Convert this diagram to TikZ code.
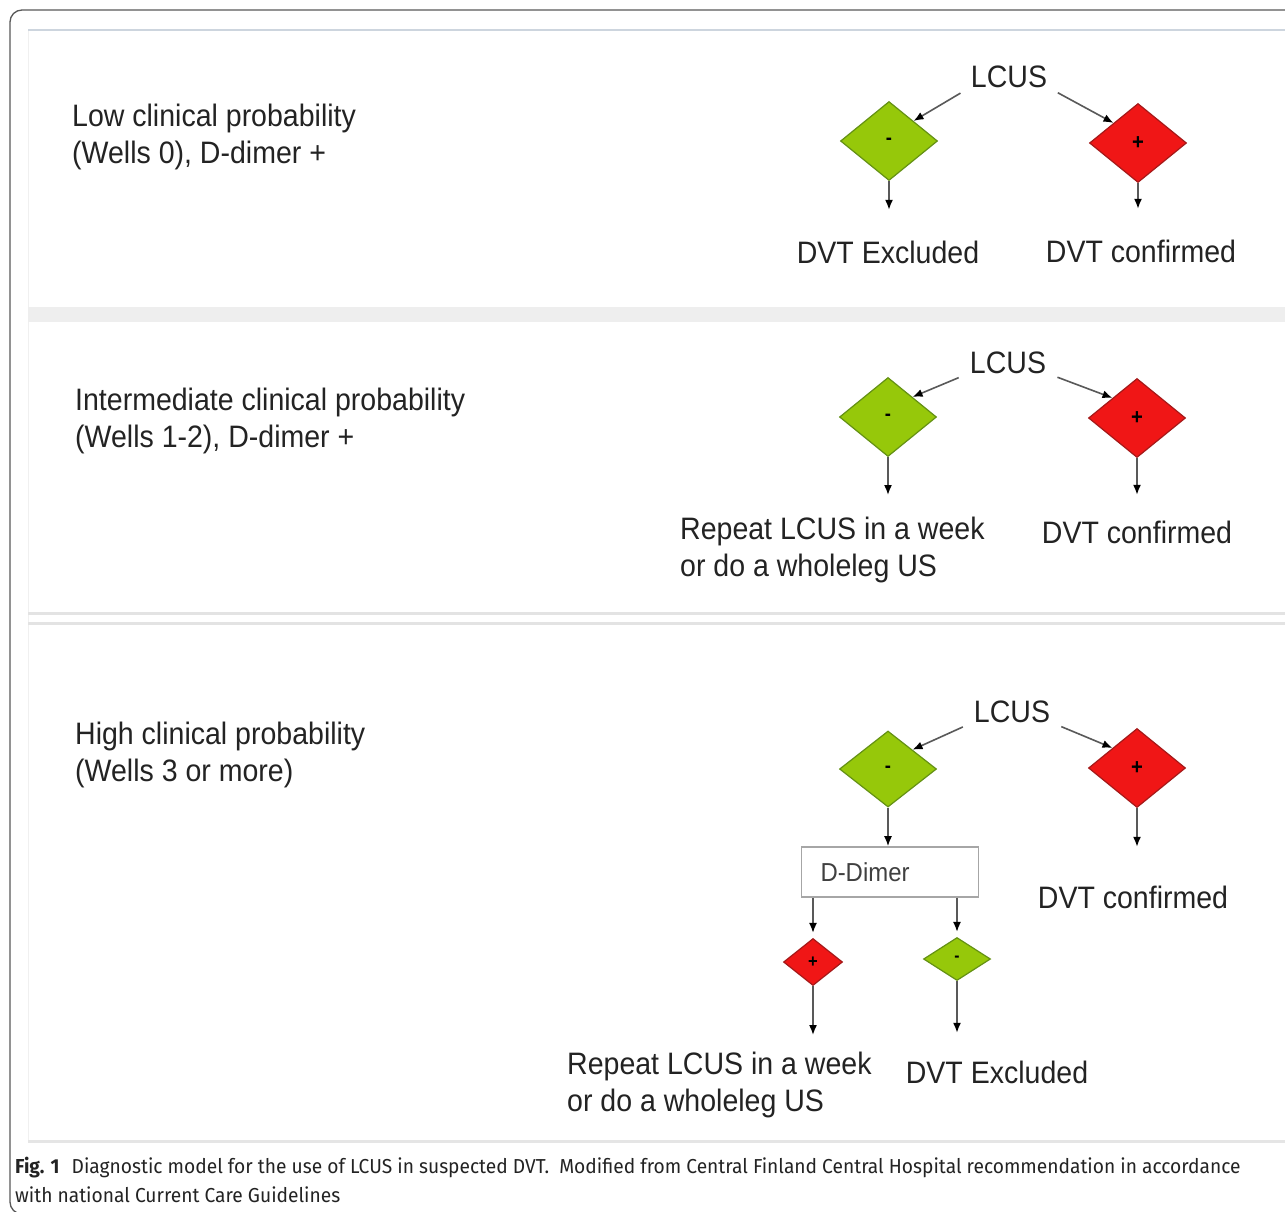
\documentclass[tikz,border=0pt]{standalone}
\usepackage{fontspec}
\usetikzlibrary{shapes.geometric,arrows.meta,calc}
\newfontfamily\diagfont{Liberation Sans}[FakeStretch=0.92]
\newfontfamily\capfont{Fira Sans}[FakeStretch=0.95]
\definecolor{negfill}{RGB}{150,200,10}
\definecolor{negline}{RGB}{100,145,20}
\definecolor{posfill}{RGB}{240,22,22}
\definecolor{posline}{RGB}{165,25,25}
\definecolor{txt}{RGB}{35,35,35}
\definecolor{panelline}{RGB}{205,213,222}

\begin{document}
\begin{tikzpicture}[x=1pt,y=-1pt]
  \tikzset{lbl/.style={font=\diagfont\fontsize{31}{37}\selectfont, text=txt, inner sep=0pt, text height=23pt, text depth=6pt},
           side/.style={font=\diagfont\fontsize{31}{37}\selectfont, text=txt, inner sep=0pt, align=left, anchor=north west},
           negdia/.style={diamond, draw=negline, fill=negfill, line width=1.2pt, inner sep=0pt, minimum width=97pt, minimum height=79pt, font=\diagfont\bfseries\fontsize{20}{20}\selectfont},
           posdia/.style={negdia, draw=posline, fill=posfill, font=\diagfont\bfseries\fontsize{22}{22}\selectfont},
           arr/.style={draw=black!65, line width=1.6pt, -{Latex[length=10pt,width=8pt,color=black]}},
           capline/.style={font=\capfont\fontsize{20.2}{24}\selectfont, text=txt, inner sep=0pt, anchor=base west}}
  \clip (0,0) rectangle (1285,1211);
  \fill[white] (0,0) rectangle (1285,1211);
  \draw[gray!12, line width=1pt] (28,31) -- (28,1141);
  \draw[panelline, line width=2.5pt] (28,30) -- (1285,30);
  \fill[gray!13] (28,307) rectangle (1285,322);
  \draw[gray!22, line width=3pt] (28,613) -- (1285,613);
  \draw[gray!22, line width=3pt] (28,623) -- (1285,623);
  \draw[gray!20, line width=3pt] (28,1141) -- (1285,1141);
  \draw[black!65, line width=1.3pt, rounded corners=12pt] (1290,10) -- (10,10) -- (10,1214) -- (40,1214);

  \node[side] (lowp) at (72,104) {Low clinical probability\\(Wells 0), D-dimer +};
  \node[lbl, anchor=base] (lcusA) at (1009,87) {LCUS};
  \node[negdia] (negA) at (889,141) {-};
  \node[posdia] (posA) at (1138,143) {+};
  \node[lbl, anchor=base] (exclA) at (888,263) {DVT Excluded};
  \node[lbl, anchor=base] (confA) at (1141,262) {DVT confirmed};
  \draw[arr, shorten <=12pt] (lcusA.base west) -- (negA.north east);
  \draw[arr, shorten <=12pt] (lcusA.base east) -- (posA.north west);
  \draw[arr, shorten >=30pt] (negA.south) -- (negA.south |- exclA.north);
  \draw[arr, shorten >=30pt] (posA.south) -- (posA.south |- confA.north);

  \node[side] (intp) at (75,388) {Intermediate clinical probability\\(Wells 1-2), D-dimer +};
  \node[lbl, anchor=base] (lcusB) at (1008,373) {LCUS};
  \node[negdia] (negB) at (888,417) {-};
  \node[posdia] (posB) at (1137,418) {+};
  \node[side] (repB) at (680,517) {Repeat LCUS in a week\\or do a wholeleg US};
  \node[lbl, anchor=base] (confB) at (1137,543) {DVT confirmed};
  \draw[arr, shorten <=12pt] (lcusB.base west) -- (negB.north east);
  \draw[arr, shorten <=12pt] (lcusB.base east) -- (posB.north west);
  \draw[arr, shorten >=22pt] (negB.south) -- (negB.south |- repB.north);
  \draw[arr, shorten >=25pt] (posB.south) -- (posB.south |- confB.north);

  \node[side] (highp) at (75,722) {High clinical probability\\(Wells 3 or more)};
  \node[lbl, anchor=base] (lcusC) at (1012,722) {LCUS};
  \node[negdia, minimum height=76pt] (negC) at (888,769) {-};
  \node[posdia] (posC) at (1137,768) {+};
  \node[draw=gray!70, line width=1.6pt, minimum height=50pt, text width=139pt, inner xsep=19pt, align=left,
        font=\diagfont\fontsize{26}{26}\selectfont, text=black!75] (ddim) at (890,872) {D-Dimer};
  \node[lbl, anchor=base] (confC) at (1133,908) {DVT confirmed};
  \node[posdia, minimum width=59pt, minimum height=47pt, font=\diagfont\bfseries\fontsize{18}{18}\selectfont] (posD) at (813,962) {+};
  \node[negdia, minimum width=67pt, minimum height=43pt, font=\diagfont\bfseries\fontsize{17}{17}\selectfont] (negD) at (957,959) {-};
  \node[side] (repD) at (567,1052) {Repeat LCUS in a week\\or do a wholeleg US};
  \node[lbl, anchor=base] (exclD) at (997,1083) {DVT Excluded};
  \draw[arr, shorten <=12pt] (lcusC.base west) -- (negC.north east);
  \draw[arr, shorten <=12pt] (lcusC.base east) -- (posC.north west);
  \draw[arr] (negC.south) -- (negC.south |- ddim.north);
  \draw[arr, shorten >=38pt] (posC.south) -- (posC.south |- confC.north);
  \draw[arr, shorten >=5pt] (ddim.south -| posD.north) -- (posD.north);
  \draw[arr, shorten >=5pt] (ddim.south -| negD.north) -- (negD.north);
  \draw[arr, shorten >=17pt] (posD.south) -- (posD.south |- repD.north);
  \draw[arr, shorten >=27pt] (negD.south) -- (negD.south |- exclD.north);

  \node[capline] (capA) at (15,1173) {\textbf{Fig. 1}\hspace{0.6em}Diagnostic model for the use of LCUS in suspected DVT.\hspace{0.5em}Modified from Central Finland Central Hospital recommendation in accordance};
  \node[capline] (capB) at (15,1202) {with national Current Care Guidelines};
\end{tikzpicture}
\end{document}
